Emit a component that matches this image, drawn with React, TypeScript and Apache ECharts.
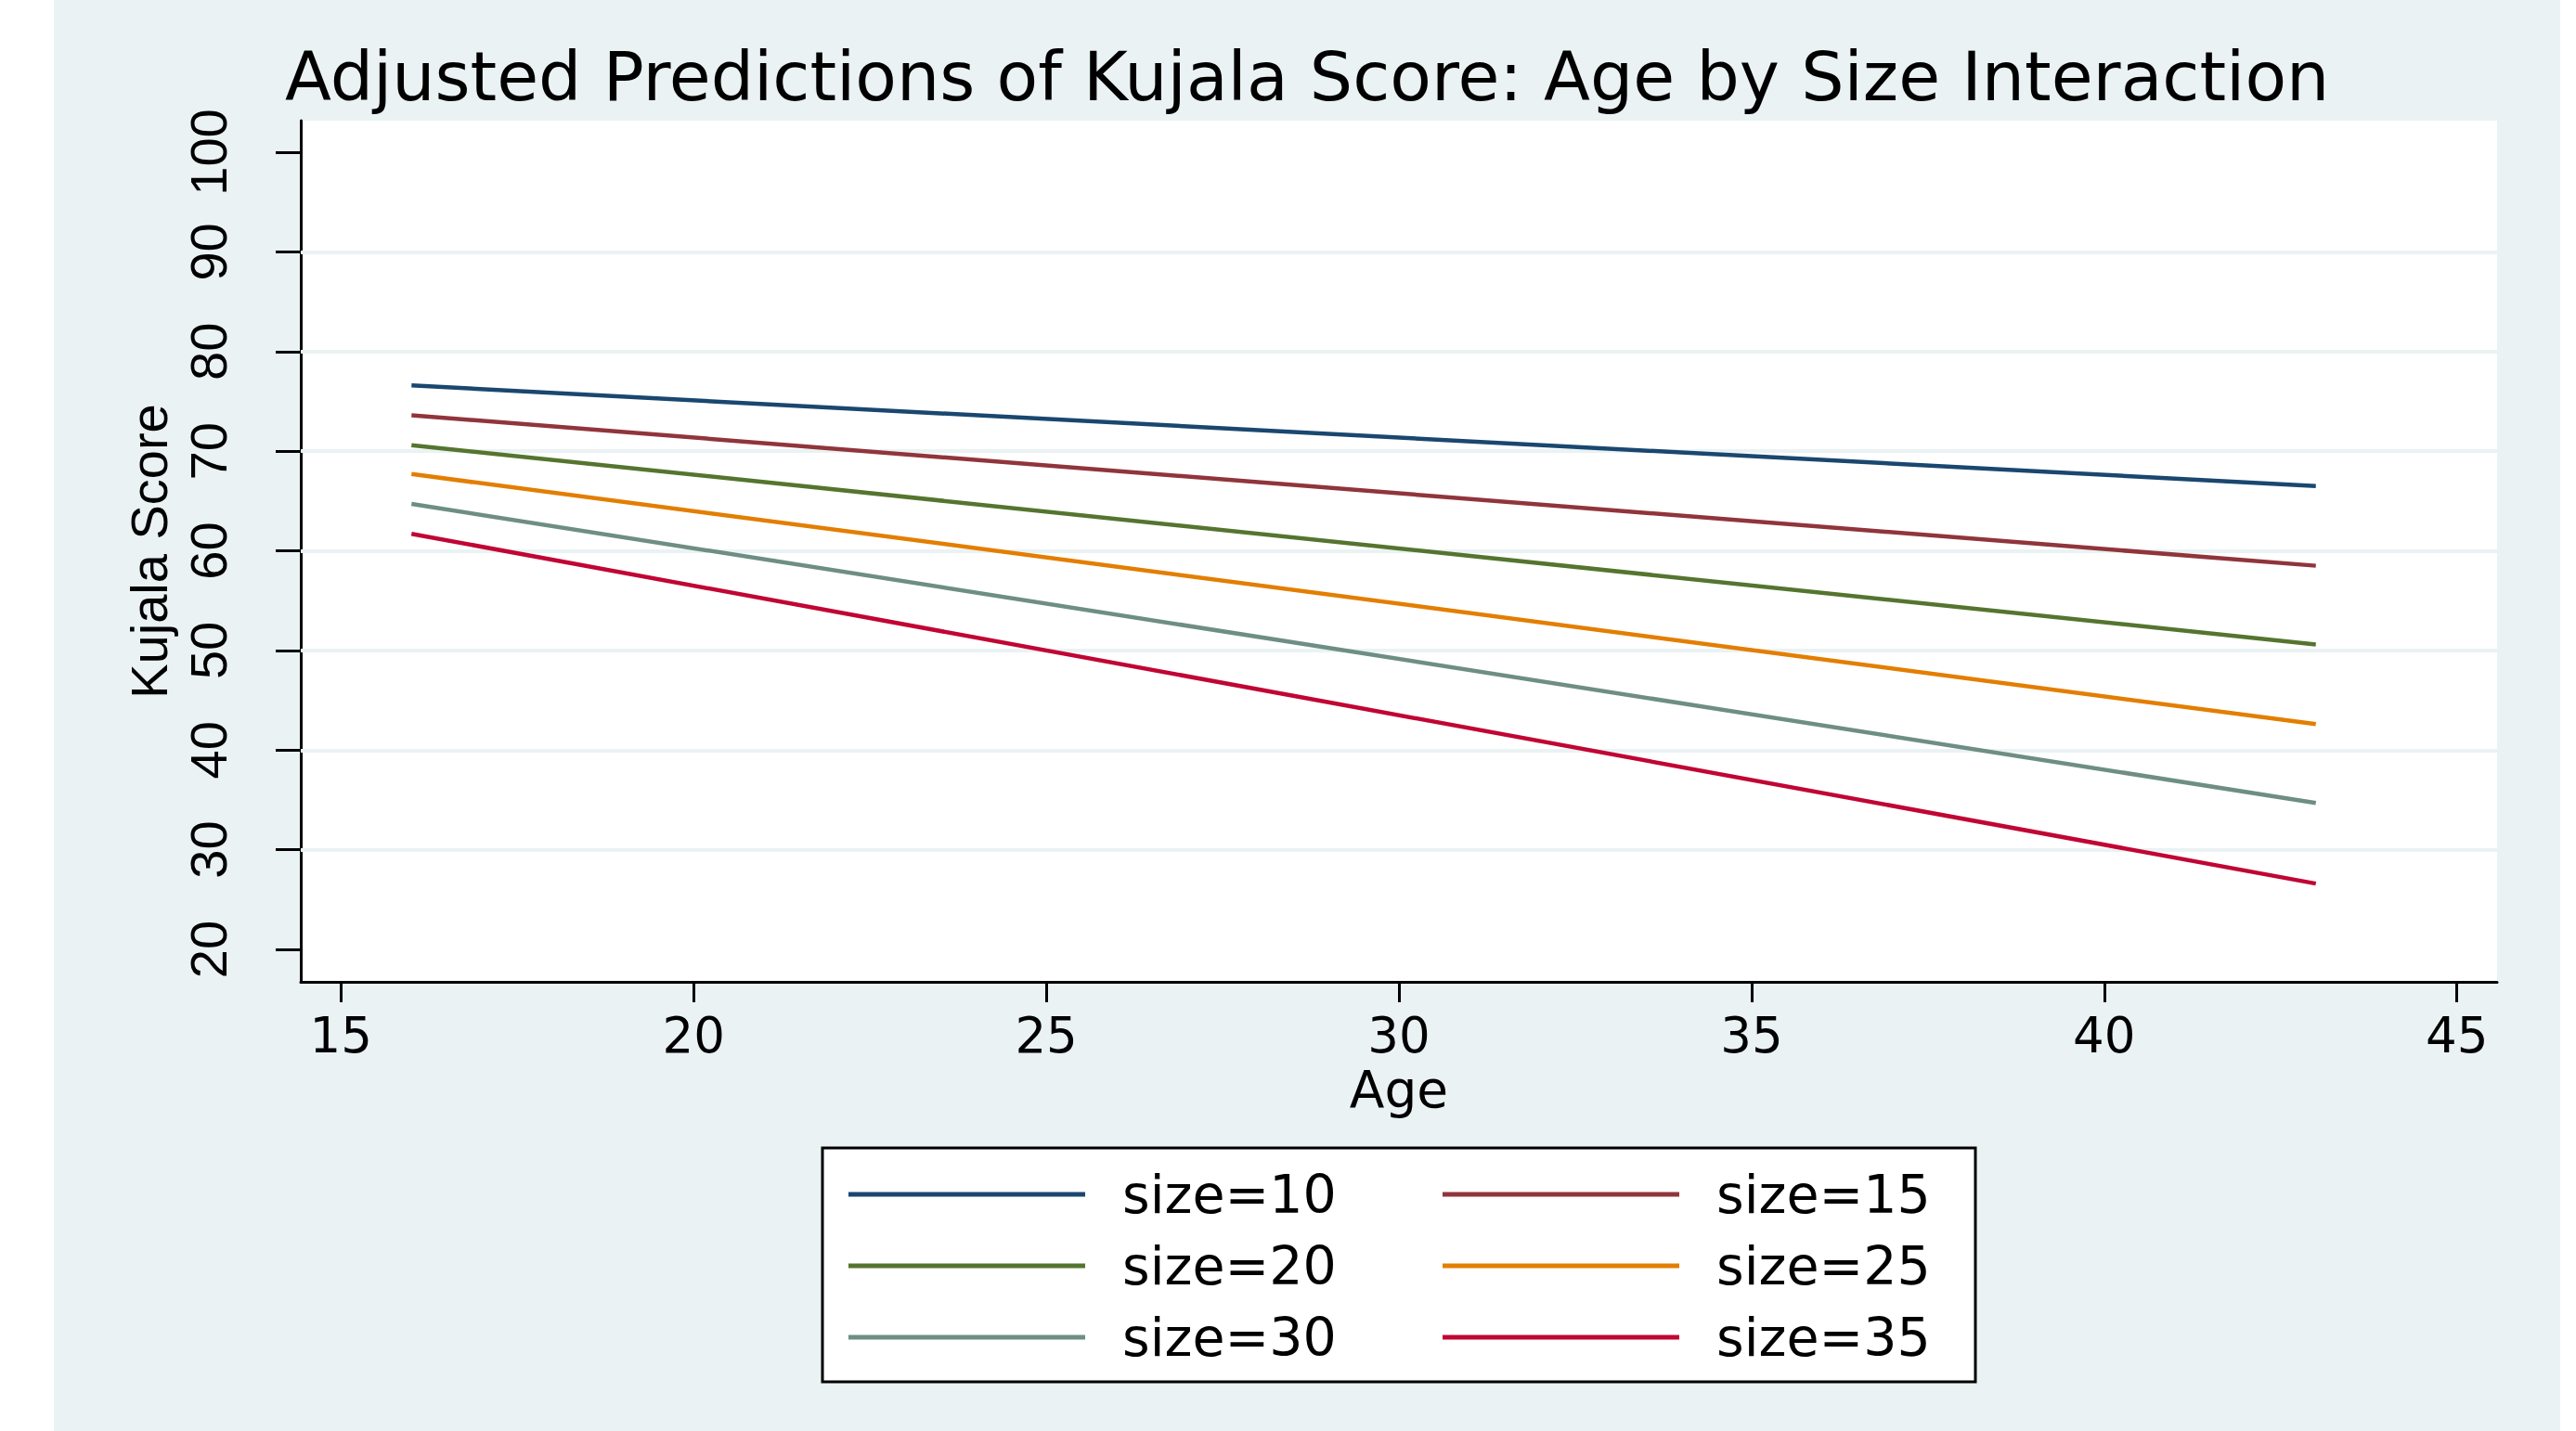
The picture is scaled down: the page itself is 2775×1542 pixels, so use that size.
import React, { useEffect, useRef } from "react";
import * as echarts from "echarts";

const TITLE = "Adjusted Predictions of Kujala Score: Age by Size Interaction";
const X_NAME = "Age";
const Y_NAME = "Kujala Score";

const ages = [16, 43];
const seriesNames = ["size=10", "size=15", "size=20", "size=25", "size=30", "size=35"];
const size10 = [76.6, 66.5];
const size15 = [73.6, 58.5];
const size20 = [70.6, 50.6];
const size25 = [67.7, 42.6];
const size30 = [64.7, 34.7];
const size35 = [61.7, 26.6];
const seriesValues = [size10, size15, size20, size25, size30, size35];
const seriesColors = ["#1A476F", "#90353B", "#55752F", "#E37E00", "#6E8E84", "#C10534"];

const xTicks = [15, 20, 25, 30, 35, 40, 45];
const yTicks = [20, 30, 40, 50, 60, 70, 80, 90, 100];
const yGridLines = [30, 40, 50, 60, 70, 80, 90];

const BG = "#EAF2F3";
const SANS = "DejaVu Sans";
const ARIAL = "Liberation Sans";

export default function App() {
  const ref = useRef<HTMLDivElement>(null);

  useEffect(() => {
    if (!ref.current) return;
    const chart = echarts.init(ref.current, null, { renderer: "svg" });

    const series: any[] = seriesNames.map((name, i) => ({
      name,
      type: "line",
      symbol: "none",
      z: 3,
      color: seriesColors[i],
      lineStyle: { color: seriesColors[i], width: 4.5 },
      data: ages.map((a, j) => [a, seriesValues[i][j]]),
    }));
    series[0].markLine = {
      silent: true,
      z: 1,
      symbol: "none",
      label: { show: false },
      lineStyle: { color: BG, width: 4, type: "solid" },
      emphasis: { disabled: true },
      data: yGridLines.map((v) => ({ yAxis: v })),
    };

    const legendCol = (col: number) => ({
      orient: "vertical",
      left: col === 0 ? 914 : 1554,
      top: 1257,
      padding: 0,
      itemWidth: 255,
      itemHeight: 5,
      itemGap: 17,
      icon: "rect",
      selectedMode: false,
      data: seriesNames.filter((_, i) => i % 2 === col),
      textStyle: {
        fontFamily: SANS,
        fontSize: 57,
        lineHeight: 60,
        color: "#000",
        padding: [0, 0, 0, 35],
      },
    });

    const option: any = {
      animation: false,
      backgroundColor: "transparent",
      title: {
        text: TITLE,
        left: 307,
        top: 46,
        padding: 0,
        textStyle: { fontFamily: SANS, fontSize: 73, fontWeight: "normal", color: "#000" },
      },
      graphic: [
        {
          type: "rect",
          z: 0,
          shape: { x: 886, y: 1237, width: 1242, height: 252 },
          style: { fill: "#fff", stroke: "#000", lineWidth: 3 },
        },
      ],
      grid: {
        left: 324,
        top: 130,
        width: 2366,
        height: 928,
        show: true,
        backgroundColor: "#fff",
        borderWidth: 0,
      },
      xAxis: {
        type: "value",
        min: 14.43,
        max: 45.57,
        name: X_NAME,
        nameLocation: "middle",
        nameGap: 88,
        nameTextStyle: { fontFamily: SANS, fontSize: 55, color: "#000" },
        axisLine: { show: true, onZero: false, lineStyle: { color: "#000", width: 3 } },
        axisTick: { show: true, length: 22, customValues: xTicks, lineStyle: { color: "#000", width: 3 } },
        axisLabel: { customValues: xTicks, fontFamily: SANS, fontSize: 53, margin: 31, color: "#000" },
        splitLine: { show: false },
      },
      yAxis: {
        type: "value",
        min: 16.74,
        max: 103.17,
        name: Y_NAME,
        nameLocation: "middle",
        nameGap: 126,
        nameTextStyle: { fontFamily: ARIAL, fontSize: 56, color: "#000" },
        axisLine: { show: true, onZero: false, lineStyle: { color: "#000", width: 3 } },
        axisTick: { show: true, length: 27, customValues: yTicks, lineStyle: { color: "#000", width: 3 } },
        axisLabel: { customValues: yTicks, rotate: 90, fontFamily: ARIAL, fontSize: 56, margin: 72, color: "#000" },
        splitLine: { show: false },
      },
      legend: [legendCol(0), legendCol(1)],
      series,
    };

    chart.setOption(option);
    return () => chart.dispose();
  }, []);

  return (
    <div style={{ position: "fixed", left: 0, top: 0, width: 2775, height: 1542, background: "#fff" }}>
      <div style={{ position: "absolute", left: 58, top: 0, width: 2700, height: 1542, background: BG }} />
      <div ref={ref} style={{ position: "absolute", left: 0, top: 0, width: 2775, height: 1542 }} />
    </div>
  );
}
